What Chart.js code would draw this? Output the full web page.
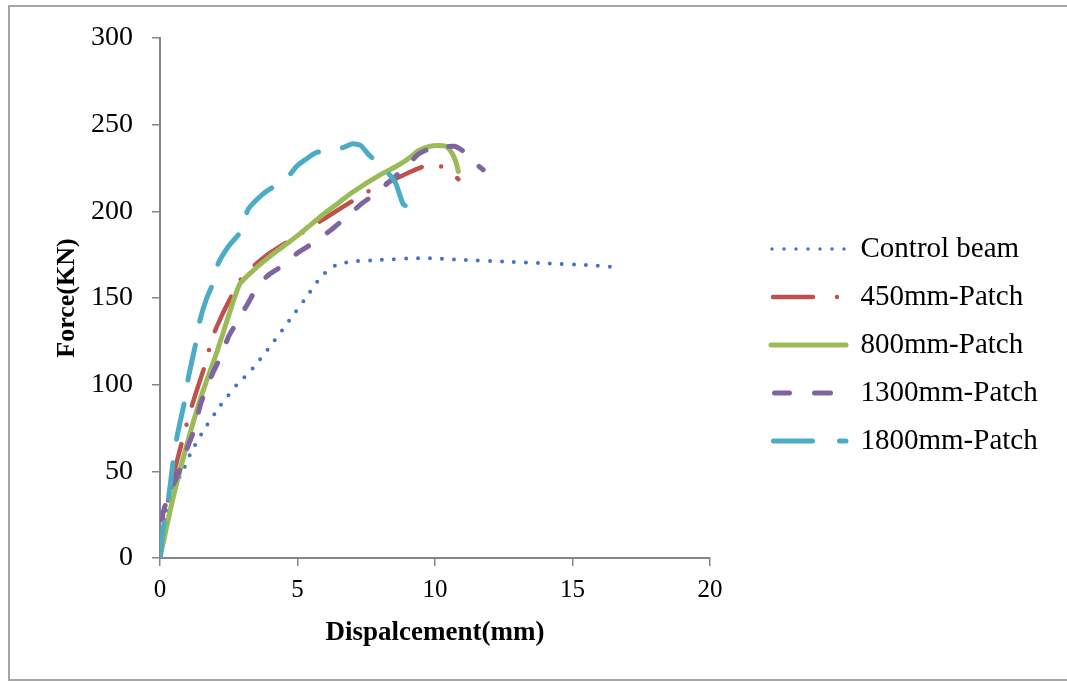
<!DOCTYPE html>
<html>
<head>
<meta charset="utf-8">
<script src="https://cdn.jsdelivr.net/npm/chart.js@4.4.1/dist/chart.umd.min.js"></script>
<style>
  html, body { margin: 0; padding: 0; background: #fff; overflow: hidden; }
  #frame { position: absolute; left: 8px; top: 5px; width: 1100px; height: 672px; border: 2px solid #a6a6a6; }
  #chart { position: absolute; left: 0; top: 0; }
</style>
</head>
<body>
<div id="frame"></div>
<canvas id="chart" width="1067" height="681"></canvas>
<script>
// Force-displacement curves
const seriesNames = ["Control beam", "450mm-Patch", "800mm-Patch", "1300mm-Patch", "1800mm-Patch"];

const controlX = [0, 0.15, 0.4, 0.8, 1.1, 1.6, 2.2, 2.8, 3.3, 4.0, 4.7, 5.3, 5.9, 6.4, 7.0, 8.0, 9.5, 11.0, 12.5, 14.0, 15.5, 16.4];
const controlY = [0, 22, 38, 49, 60, 74, 88, 100, 108, 122, 137, 150, 163, 169, 171, 172, 173, 172, 171, 170, 169, 168];

const p450X = [0, 0.15, 0.35, 0.65, 0.85, 1.05, 1.3, 1.65, 1.9, 2.25, 2.6, 2.9, 3.3, 4.0, 5.0, 6.0, 6.9, 7.5, 8.2, 9.0, 9.7, 10.2, 10.5, 10.85];
const p450Y = [0, 20, 38, 58, 70, 82, 95, 112, 127, 140, 151, 160, 167, 176, 186, 196, 205, 211, 216, 222, 226.5, 226, 224, 218.5];

const p800X = [0, 0.2, 0.45, 0.85, 1.45, 2.05, 2.5, 2.9, 3.4, 4.0, 4.5, 5.0, 6.0, 6.5, 7.0, 8.0, 8.6, 9.0, 9.4, 9.8, 10.1, 10.4, 10.6, 10.75, 10.85];
const p800Y = [0, 15, 33, 58, 91, 118, 140, 158, 166, 174, 180, 186, 199, 205, 211, 221, 226, 230, 235, 237.5, 238, 237.5, 234, 229, 223];

const p1300X = [0, 0.1, 0.35, 0.65, 1.0, 1.2, 1.5, 1.9, 2.2, 2.5, 2.8, 3.2, 3.6, 4.0, 4.5, 5.0, 5.6, 6.2, 6.8, 7.3, 7.9, 8.4, 8.9, 9.4, 9.8, 10.2, 10.7, 11.0, 11.35, 11.6, 11.75];
const p1300Y = [0, 25, 38, 48, 64, 72, 90, 106, 116, 128, 136, 147, 158, 164, 169, 176, 182, 189, 197, 204, 211, 218, 225, 233, 236, 237, 237.5, 235, 229.5, 226, 224];

const p1800X = [0, 0.1, 0.2, 0.3, 0.48, 0.62, 0.9, 1.03, 1.33, 1.45, 1.7, 1.94, 2.12, 2.5, 2.97, 3.2, 3.6, 4.0, 4.5, 4.97, 5.3, 5.7, 6.2, 6.7, 7.0, 7.3, 7.6, 8.0, 8.3, 8.55, 8.75, 8.85, 9.1, 9.4];
const p1800Y = [0, 15, 24, 33, 56, 70, 91, 104, 126, 137, 150, 159, 170, 180, 189, 201, 208, 213, 217, 226, 230, 234, 235, 237, 239, 238, 232.5, 227, 222, 217, 208, 204, 202, 200.8];

const xTicks = [0, 5, 10, 15, 20];
const yTicks = [0, 50, 100, 150, 200, 250, 300];

const toPoints = (xs, ys) => xs.map((x, i) => ({ x: x, y: ys[i] }));

// styles: color, width, dash (plot) and dash/offset for the short legend sample
const styles = [
  { color: "#4472C4", width: 4, dash: [0, 12], legendDash: [0, 12], legendOffset: 11, legendWidth: 3.5 },
  { color: "#C0504D", width: 4.5, dash: [38, 20, 0, 20], legendDash: [40, 24, 0, 11], legendOffset: 73, legendWidth: 4.5 },
  { color: "#9BBB59", width: 5, dash: [], legendDash: [], legendOffset: 0, legendWidth: 5 },
  { color: "#8064A2", width: 5, dash: [15, 23], legendDash: [15, 25, 16, 19], legendOffset: 71.5, legendWidth: 5 },
  { color: "#4BACC6", width: 5, dash: [36, 24], legendDash: [39, 27, 6.5, 2.5], legendOffset: 72.5, legendWidth: 5 },
];

const allData = [
  toPoints(controlX, controlY),
  toPoints(p450X, p450Y),
  toPoints(p800X, p800Y),
  toPoints(p1300X, p1300Y),
  toPoints(p1800X, p1800Y),
];

const datasets = allData.map((pts, i) => ({
  label: seriesNames[i],
  data: pts,
  borderColor: styles[i].color,
  backgroundColor: styles[i].color,
  borderWidth: styles[i].width,
  borderDash: styles[i].dash,
  borderCapStyle: "round",
  borderJoinStyle: "round",
  pointRadius: 0,
  tension: 0.2,
  fill: false,
  order: 5 - i,
}));

// put the legend to the right of the plot, outside the chart area
const legendPlacer = {
  id: "legendPlacer",
  afterLayout(chart) {
    const lg = chart.legend;
    if (!lg) return;
    const pad = lg.options.labels.padding;
    lg.left = 771 - pad;
    lg.width = 296;
    lg.right = lg.left + lg.width;
    lg.top = 249 - 14.5 - pad;
    lg.height = 320;
    lg.bottom = lg.top + lg.height;
  },
};

const axisColor = "#868686";

new Chart(document.getElementById("chart"), {
  type: "line",
  data: { datasets: datasets },
  plugins: [legendPlacer],
  options: {
    responsive: false,
    animation: false,
    devicePixelRatio: 1,
    layout: { padding: { left: 10, top: 38, right: 357, bottom: 0 } },
    plugins: {
      tooltip: { enabled: false },
      legend: {
        position: "chartArea",
        align: "start",
        labels: {
          color: "#000",
          font: { family: "Liberation Serif", size: 29 },
          padding: 19,
          usePointStyle: true,
          pointStyle: "line",
          pointStyleWidth: 75,
          sort: (a, b) => a.datasetIndex - b.datasetIndex,
          generateLabels(chart) {
            const items = Chart.defaults.plugins.legend.labels.generateLabels(chart);
            items.forEach((it) => {
              const s = styles[it.datasetIndex];
              it.lineDash = s.legendDash;
              it.lineDashOffset = s.legendOffset;
              it.lineWidth = s.legendWidth;
              it.lineCap = "round";
            });
            return items;
          },
        },
      },
    },
    scales: {
      x: {
        type: "linear",
        min: 0,
        max: 20,
        afterFit(scale) { scale.height = 123; },
        afterBuildTicks(scale) { scale.ticks = xTicks.map((v) => ({ value: v })); },
        ticks: {
          color: "#000",
          font: { family: "Liberation Serif", size: 25 },
          padding: 9,
          maxRotation: 0,
        },
        grid: { drawOnChartArea: false, drawTicks: true, tickLength: 8, color: axisColor, lineWidth: 1.5 },
        border: { color: axisColor, width: 2 },
        title: {
          display: true,
          text: "Dispalcement(mm)",
          color: "#000",
          font: { family: "Liberation Serif", size: 27, weight: "bold" },
          padding: { top: 0, bottom: 32 },
        },
      },
      y: {
        type: "linear",
        min: 0,
        max: 300,
        afterFit(scale) { scale.width = 150; },
        afterBuildTicks(scale) { scale.ticks = yTicks.map((v) => ({ value: v })); },
        ticks: {
          color: "#000",
          font: { family: "Liberation Serif", size: 28 },
          padding: 19,
        },
        grid: { drawOnChartArea: false, drawTicks: true, tickLength: 8, color: axisColor, lineWidth: 1.5 },
        border: { color: axisColor, width: 2 },
        title: {
          display: true,
          text: "Force(KN)",
          color: "#000",
          font: { family: "Liberation Serif", size: 26, weight: "bold" },
          padding: { top: 42, bottom: 0 },
        },
      },
    },
  },
});
</script>
</body>
</html>
